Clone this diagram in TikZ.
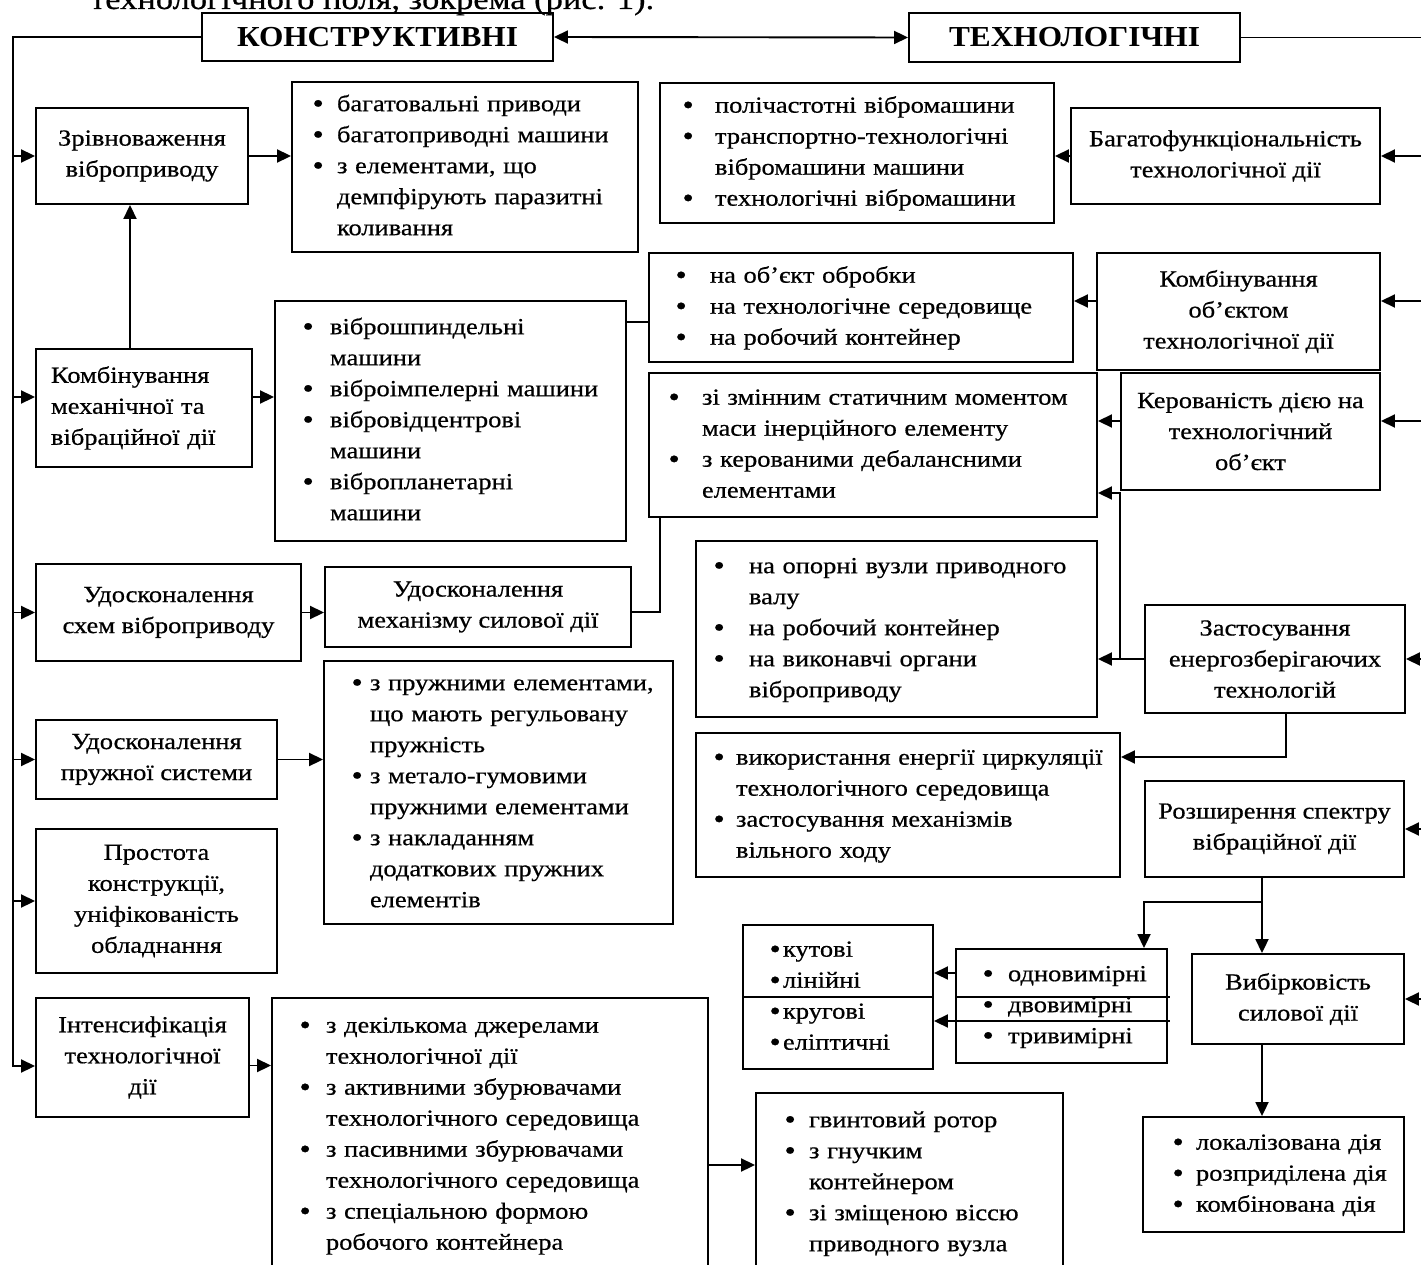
\documentclass[tikz,border=0pt]{standalone}
\usepackage{fontspec}
\setmainfont{Liberation Serif}[FakeStretch=1.15, FakeBold=0.6]
\newfontfamily\titlefont{Liberation Serif}[FakeStretch=1.08]
\usetikzlibrary{arrows.meta}
\newcommand{\bodyfont}{\fontsize{23}{31}\selectfont}
\newcommand{\blist}[2]{\begin{tabular}{@{}p{#1}@{}l@{}}#2\end{tabular}}
\newcommand{\bul}{\raisebox{-1.5pt}{\fontsize{28}{31}\selectfont\textbullet}}

\begin{document}
\begin{tikzpicture}[x=1pt,y=-1pt,
	box/.style={draw, line width=1.9pt, inner sep=0pt, align=center, font=\bodyfont},
	lbox/.style={box, align=left},
	tbox/.style={box, font={\titlefont\fontsize{29}{34}\selectfont\bfseries}},
	link/.style={line width=1.9pt},
	arr/.style={link, -{Triangle[length=14pt,width=13pt]}}]
		\useasboundingbox (0,0) rectangle (1421,1265);
		\clip (0,0) rectangle (1421,1265);
		\node[anchor=base west, inner sep=0pt, font=\fontsize{30}{35}\selectfont] (intro) at (90,9) {технологічного поля, зокрема (рис. 1).};

		%titles
		\node[tbox, minimum width=351pt, minimum height=48pt] (konstr) at (377.5,37) {КОНСТРУКТИВНІ};
		\node[tbox, minimum width=331pt, minimum height=49pt] (tekhn) at (1074.5,37.5) {ТЕХНОЛОГІЧНІ};

		%left column
		\node[box, minimum width=212pt, minimum height=96pt] (zriv) at (142,156) {Зрівноваження\\віброприводу};
		\node[lbox, minimum width=216pt, minimum height=118pt, text width=186pt] (komb) at (144,408) {Комбінування\\механічної та\\вібраційної дії};
		\node[box, minimum width=265pt, minimum height=97pt] (udsk) at (168.5,612.5) {Удосконалення\\схем віброприводу};
		\node[box, minimum width=306pt, minimum height=80pt] (mech) at (478,607) {Удосконалення\\механізму силової дії};
		\node[box, minimum width=241pt, minimum height=79pt] (udpr) at (156.5,759.5) {Удосконалення\\пружної системи};
		\node[box, minimum width=241pt, minimum height=144pt] (prost) at (156.5,901) {Простота\\конструкції,\\уніфікованість\\обладнання};
		\node[box, minimum width=213pt, minimum height=119pt] (intens) at (142.5,1057.5) {Інтенсифікація\\технологічної\\дії};

		%lists of the left column
		\node[lbox, minimum width=346pt, minimum height=170pt, text width=305pt] (bag) at (465,167) {\blist{24.5pt}{\bul & багатовальні приводи\\ \bul & багатоприводні машини\\ \bul & з елементами, що\\ & демпфірують паразитні\\ & коливання}};
		\node[lbox, minimum width=351pt, minimum height=240pt, text width=296pt] (vibr) at (450.5,421) {\blist{27.5pt}{\bul & віброшпиндельні\\ & машини\\ \bul & віброімпелерні машини\\ \bul & вібровідцентрові\\ & машини\\ \bul & вібропланетарні\\ & машини}};
		\node[lbox, minimum width=349pt, minimum height=263pt, text width=294pt] (pruzh) at (498.5,792.5) {\blist{18.5pt}{\bul & з пружними елементами,\\ & що мають регульовану\\ & пружність\\ \bul & з метало-гумовими\\ & пружними елементами\\ \bul & з накладанням\\ & додаткових пружних\\ & елементів}};
		\node[lbox, minimum width=436pt, minimum height=274pt, text width=381pt] (dekil) at (490,1135) {\blist{26.5pt}{\bul & з декількома джерелами\\ & технологічної дії\\ \bul & з активними збурювачами\\ & технологічного середовища\\ \bul & з пасивними збурювачами\\ & технологічного середовища\\ \bul & з спеціальною формою\\ & робочого контейнера}};
		\node[lbox, minimum width=307pt, minimum height=180pt, text width=250pt] (gvint) at (909.5,1183) {\blist{24.5pt}{\bul & гвинтовий ротор\\ \bul & з гнучким\\ & контейнером\\ \bul & зі зміщеною віссю\\ & приводного вузла}};

		%right column
		\node[box, minimum width=309pt, minimum height=96pt] (bagf) at (1225.5,156) {Багатофункціональність\\технологічної дії};
		\node[box, minimum width=283pt, minimum height=117pt] (kobj) at (1238.5,311.5) {Комбінування\\об’єктом\\технологічної дії};
		\node[box, minimum width=259pt, minimum height=117pt] (ker) at (1250.5,431.5) {Керованість дією на\\технологічний\\об’єкт};
		\node[box, minimum width=260pt, minimum height=108pt] (zast) at (1275,659) {Застосування\\енергозберігаючих\\технологій};
		\node[box, minimum width=259pt, minimum height=96pt] (rozsh) at (1274.5,829) {Розширення спектру\\вібраційної дії};
		\node[box, minimum width=212pt, minimum height=90pt] (vyb) at (1298,999) {Вибірковість\\силової дії};

		%lists of the right column
		\node[lbox, minimum width=394pt, minimum height=140pt, text width=349pt] (polich) at (857,153) {\blist{32.5pt}{\bul & полічастотні вібромашини\\ \bul & транспортно-технологічні\\ & вібромашини машини\\ \bul & технологічні вібромашини}};
		\node[lbox, minimum width=424pt, minimum height=109pt, text width=371pt] (naob) at (861,307.5) {\blist{34.5pt}{\bul & на об’єкт обробки\\ \bul & на технологічне середовище\\ \bul & на робочий контейнер}};
		\node[lbox, minimum width=448pt, minimum height=144pt, text width=409pt] (zizm) at (873,445) {\blist{33.5pt}{\bul & зі змінним статичним моментом\\ & маси інерційного елементу\\ \bul & з керованими дебалансними\\ & елементами}};
		\node[lbox, minimum width=401pt, minimum height=176pt, text width=366pt] (opor) at (896.5,629) {\blist{35.5pt}{\bul & на опорні вузли приводного\\ & валу\\ \bul & на робочий контейнер\\ \bul & на виконавчі органи\\ & віброприводу}};
		\node[lbox, minimum width=424pt, minimum height=144pt, text width=389pt] (vykor) at (908,805) {\blist{22.5pt}{\bul & використання енергії циркуляції\\ & технологічного середовища\\ \bul & застосування механізмів\\ & вільного ходу}};
		\node[lbox, minimum width=211pt, minimum height=114pt, text width=158pt] (odn) at (1061.5,1006) {\blist{25.5pt}{\bul & одновимірні\\ \bul & двовимірні\\ \bul & тривимірні}};
		\node[lbox, minimum width=190pt, minimum height=144pt, text width=137pt] (kut) at (838,997) {\blist{13.5pt}{\bul & кутові\\ \bul & лінійні\\ \bul & кругові\\ \bul & еліптичні}};
		\node[lbox, minimum width=261pt, minimum height=115pt, text width=202pt] (lokal) at (1273.5,1174.5) {\blist{23.5pt}{\bul & локалізована дія\\ \bul & розприділена дія\\ \bul & комбінована дія}};

		%spines
		\coordinate (lsp) at (13,0);
		\coordinate (rsp) at (1430,0);
		\coordinate (kombin) at ([yshift=11pt]komb.west);
		\coordinate (kombout) at ([yshift=11pt]komb.east);
		\coordinate (intin) at ([yshift=-8.5pt]intens.west);
		\coordinate (kobjin) at ([yshift=10.5pt]kobj.east);
		\coordinate (kerin) at ([yshift=10.5pt]ker.east);
		\draw[link, {Triangle[length=14pt,width=13pt]}-{Triangle[length=14pt,width=13pt]}] (konstr.east) -- (tekhn.west);
		\draw[arr] (konstr.west) -| (lsp |- intin) -- (intin);
		\foreach \p in {zriv.west, kombin, udsk.west, udpr.west, prost.west}
			\draw[arr] (lsp |- \p) -- (\p);
		\draw[link] (tekhn.east) -| (rsp |- vyb.east);
		\foreach \p in {bagf.east, kobjin, kerin, zast.east, rozsh.east, vyb.east}
			\draw[arr] (rsp |- \p) -- (\p);

		%left links
		\draw[arr] (zriv.east) -- (bag.west |- zriv.east);
		\draw[arr] ([xshift=-12pt]zriv.south |- komb.north) -- ([xshift=-12pt]zriv.south);
		\draw[arr] (kombout) -- (vibr.west |- kombout);
		\draw[link] ([yshift=-22pt]vibr.north east) -- ([yshift=-22pt]vibr.north east -| naob.west);
		\draw[arr] (udsk.east) -- (mech.west |- udsk.east);
		\draw[link] ([yshift=-5pt]mech.east) -| ([xshift=12pt]zizm.south west);
		\draw[arr] (udpr.east) -- (pruzh.west |- udpr.east);
		\draw[arr] ([yshift=-8pt]intens.east) -- ([yshift=-8pt]intens.east -| dekil.west);
		\draw[arr] ([yshift=-30pt]dekil.east) -- ([yshift=-30pt]dekil.east -| gvint.west);

		%right links
		\draw[arr] (bagf.west) -- (polich.east |- bagf.west);
		\draw[arr] ([yshift=10.5pt]kobj.west) -- ([yshift=10.5pt]kobj.west -| naob.east);
		\draw[arr] ([yshift=10.5pt]ker.west) -- ([yshift=10.5pt]ker.west -| zizm.east);
		\draw[arr] (zast.west) -- (opor.east |- zast.west);
		\draw[arr] (ker.south west |- zast.west) |- ([yshift=-48pt]zizm.east);
		\draw[arr] ([xshift=11pt]zast.south) |- ([yshift=48pt]vykor.east);

		%vibration spectrum
		\coordinate (rz) at ([xshift=-12.5pt]rozsh.south);
		\draw[arr] (rz) -- (rz |- vyb.north);
		\draw[arr] ([yshift=-24pt]rz) -| ([xshift=82.5pt]odn.north);
		\draw[arr] (rz |- vyb.south) -- (rz |- lokal.north);
		\draw[link] (kut.west) -- (kut.east);
		\draw[link] (odn.west |- kut.east) -- ([xshift=2pt]odn.east |- kut.east);
		\draw[arr] ([yshift=33pt]odn.west) -- ([yshift=24pt]kut.east);
		\draw[arr] ([xshift=2pt,yshift=-15pt]odn.east) -- ([yshift=-24pt]kut.east);
	\end{tikzpicture}
\end{document}
